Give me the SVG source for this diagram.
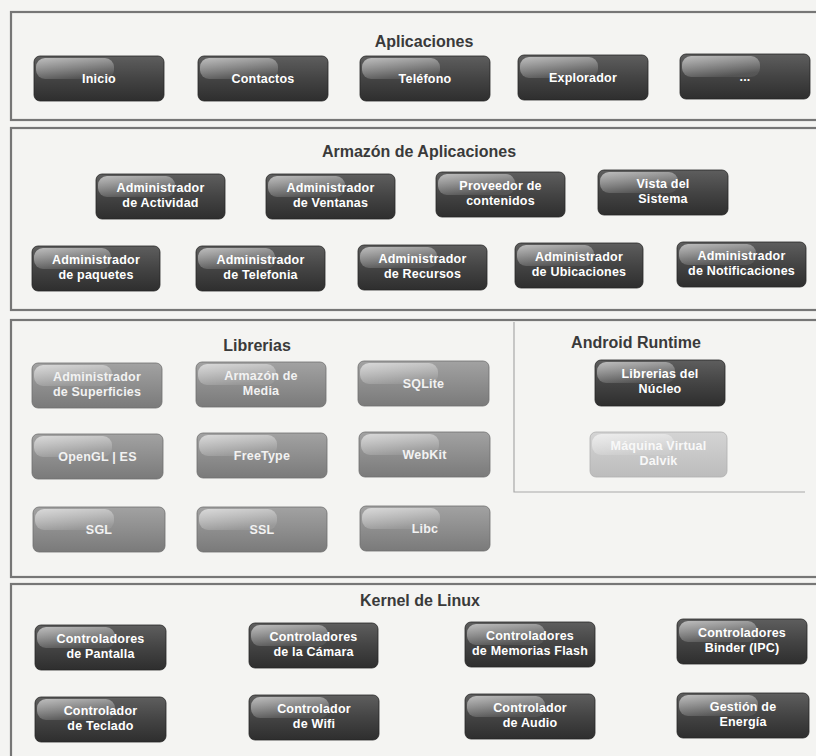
<svg xmlns="http://www.w3.org/2000/svg" width="816" height="756" viewBox="0 0 816 756">
<defs>
<linearGradient id="gDark" x1="0" y1="0" x2="0" y2="1">
<stop offset="0" stop-color="#5e5e5e"/><stop offset="0.5" stop-color="#444"/><stop offset="1" stop-color="#2e2e2e"/>
</linearGradient>
<linearGradient id="gMid" x1="0" y1="0" x2="0" y2="1">
<stop offset="0" stop-color="#a2a2a2"/><stop offset="1" stop-color="#7a7a7a"/>
</linearGradient>
<linearGradient id="gLight" x1="0" y1="0" x2="0" y2="1">
<stop offset="0" stop-color="#d4d4d4"/><stop offset="1" stop-color="#bcbcbc"/>
</linearGradient>
<linearGradient id="gHl" x1="0" y1="0" x2="0.5" y2="1">
<stop offset="0" stop-color="#fff" stop-opacity="0.6"/><stop offset="1" stop-color="#fff" stop-opacity="0.08"/>
</linearGradient>
<style>
.frame{fill:none;stroke:#767676;stroke-width:2.2}
.rt{fill:none;stroke:#a8a8a8;stroke-width:1.2}
.title{font-family:"Liberation Sans",Arial,sans-serif;font-weight:bold;font-size:16px;fill:#3a3a3a;text-anchor:middle}
.t{font-family:"Liberation Sans",Arial,sans-serif;font-weight:bold;font-size:12.5px;fill:#fff;text-anchor:middle;letter-spacing:0.2px}
.dark .base{fill:url(#gDark);stroke:#262626;stroke-width:0.8}
.mid .base{fill:url(#gMid);stroke:#707070;stroke-width:0.8}
.light .base{fill:url(#gLight);stroke:#b0b0b0;stroke-width:0.8}
.hl{fill:url(#gHl)}
.mid .t{fill:#f2f2f2}
.light .t{fill:#f8f8f8}
</style>
</defs>
<rect width="816" height="756" fill="#f4f4f2"/>

<g id="frames">
<rect class="frame" x="11" y="12" width="812" height="108"/>
<rect class="frame" x="11" y="128" width="812" height="182"/>
<rect class="frame" x="11" y="320" width="812" height="257"/>
<rect class="frame" x="11" y="584" width="812" height="180"/>
<path class="rt" d="M514,322 V492 H805"/>
</g>

<g id="titles">
<text class="title" x="424" y="47">Aplicaciones</text>
<text class="title" x="419" y="157">Armazón de Aplicaciones</text>
<text class="title" x="257" y="351">Librerias</text>
<text class="title" x="636" y="348">Android Runtime</text>
<text class="title" x="420" y="606">Kernel de Linux</text>
</g>

<!-- Aplicaciones -->
<g id="n-inicio" class="dark" transform="translate(34,56)"><rect class="base" width="130" height="45" rx="6"/><rect class="hl" x="2" y="2" width="78" height="21" rx="9"/><text class="t" x="65" y="27">Inicio</text></g>
<g id="n-contactos" class="dark" transform="translate(198,56)"><rect class="base" width="130" height="45" rx="6"/><rect class="hl" x="2" y="2" width="78" height="21" rx="9"/><text class="t" x="65" y="27">Contactos</text></g>
<g id="n-telefono" class="dark" transform="translate(360,56)"><rect class="base" width="130" height="45" rx="6"/><rect class="hl" x="2" y="2" width="78" height="21" rx="9"/><text class="t" x="65" y="27">Teléfono</text></g>
<g id="n-explorador" class="dark" transform="translate(518,55)"><rect class="base" width="130" height="45" rx="6"/><rect class="hl" x="2" y="2" width="78" height="21" rx="9"/><text class="t" x="65" y="27">Explorador</text></g>
<g id="n-mas" class="dark" transform="translate(680,54)"><rect class="base" width="130" height="45" rx="6"/><rect class="hl" x="2" y="2" width="78" height="21" rx="9"/><text class="t" x="65" y="27">...</text></g>

<!-- Armazón de Aplicaciones -->
<g id="n-actividad" class="dark" transform="translate(96,174)"><rect class="base" width="129" height="45" rx="6"/><rect class="hl" x="2" y="2" width="77" height="21" rx="9"/><text class="t" x="64.5" y="17.5">Administrador</text><text class="t" x="64.5" y="32.5">de Actividad</text></g>
<g id="n-ventanas" class="dark" transform="translate(266,174)"><rect class="base" width="129" height="45" rx="6"/><rect class="hl" x="2" y="2" width="77" height="21" rx="9"/><text class="t" x="64.5" y="17.5">Administrador</text><text class="t" x="64.5" y="32.5">de Ventanas</text></g>
<g id="n-proveedor" class="dark" transform="translate(436,172)"><rect class="base" width="129" height="45" rx="6"/><rect class="hl" x="2" y="2" width="77" height="21" rx="9"/><text class="t" x="64.5" y="17.5">Proveedor de</text><text class="t" x="64.5" y="32.5">contenidos</text></g>
<g id="n-vista" class="dark" transform="translate(598,170)"><rect class="base" width="130" height="45" rx="6"/><rect class="hl" x="2" y="2" width="78" height="21" rx="9"/><text class="t" x="65" y="17.5">Vista del</text><text class="t" x="65" y="32.5">Sistema</text></g>

<g id="n-paquetes" class="dark" transform="translate(32,246)"><rect class="base" width="128" height="45" rx="6"/><rect class="hl" x="2" y="2" width="77" height="21" rx="9"/><text class="t" x="64" y="17.5">Administrador</text><text class="t" x="64" y="32.5">de paquetes</text></g>
<g id="n-telefonia" class="dark" transform="translate(196,246)"><rect class="base" width="129" height="45" rx="6"/><rect class="hl" x="2" y="2" width="77" height="21" rx="9"/><text class="t" x="64.5" y="17.5">Administrador</text><text class="t" x="64.5" y="32.5">de Telefonia</text></g>
<g id="n-recursos" class="dark" transform="translate(358,245)"><rect class="base" width="129" height="45" rx="6"/><rect class="hl" x="2" y="2" width="77" height="21" rx="9"/><text class="t" x="64.5" y="17.5">Administrador</text><text class="t" x="64.5" y="32.5">de Recursos</text></g>
<g id="n-ubicaciones" class="dark" transform="translate(515,243)"><rect class="base" width="128" height="45" rx="6"/><rect class="hl" x="2" y="2" width="77" height="21" rx="9"/><text class="t" x="64" y="17.5">Administrador</text><text class="t" x="64" y="32.5">de Ubicaciones</text></g>
<g id="n-notificaciones" class="dark" transform="translate(677,242)"><rect class="base" width="129" height="45" rx="6"/><rect class="hl" x="2" y="2" width="77" height="21" rx="9"/><text class="t" x="64.5" y="17.5">Administrador</text><text class="t" x="64.5" y="32.5">de Notificaciones</text></g>

<!-- Librerías -->
<g id="n-superficies" class="mid" transform="translate(32,363)"><rect class="base" width="130" height="45" rx="6"/><rect class="hl" x="2" y="2" width="78" height="21" rx="9"/><text class="t" x="65" y="17.5">Administrador</text><text class="t" x="65" y="32.5">de Superficies</text></g>
<g id="n-media" class="mid" transform="translate(196,362)"><rect class="base" width="130" height="45" rx="6"/><rect class="hl" x="2" y="2" width="78" height="21" rx="9"/><text class="t" x="65" y="17.5">Armazón de</text><text class="t" x="65" y="32.5">Media</text></g>
<g id="n-sqlite" class="mid" transform="translate(358,361)"><rect class="base" width="131" height="45" rx="6"/><rect class="hl" x="2" y="2" width="78" height="21" rx="9"/><text class="t" x="65.5" y="27">SQLite</text></g>
<g id="n-opengl" class="mid" transform="translate(32,434)"><rect class="base" width="131" height="45" rx="6"/><rect class="hl" x="2" y="2" width="78" height="21" rx="9"/><text class="t" x="65.5" y="27">OpenGL | ES</text></g>
<g id="n-freetype" class="mid" transform="translate(197,433)"><rect class="base" width="130" height="45" rx="6"/><rect class="hl" x="2" y="2" width="78" height="21" rx="9"/><text class="t" x="65" y="27">FreeType</text></g>
<g id="n-webkit" class="mid" transform="translate(359,432)"><rect class="base" width="131" height="45" rx="6"/><rect class="hl" x="2" y="2" width="78" height="21" rx="9"/><text class="t" x="65.5" y="27">WebKit</text></g>
<g id="n-sgl" class="mid" transform="translate(33,507)"><rect class="base" width="132" height="45" rx="6"/><rect class="hl" x="2" y="2" width="79" height="21" rx="9"/><text class="t" x="66" y="27">SGL</text></g>
<g id="n-ssl" class="mid" transform="translate(197,507)"><rect class="base" width="130" height="45" rx="6"/><rect class="hl" x="2" y="2" width="78" height="21" rx="9"/><text class="t" x="65" y="27">SSL</text></g>
<g id="n-libc" class="mid" transform="translate(360,506)"><rect class="base" width="130" height="45" rx="6"/><rect class="hl" x="2" y="2" width="78" height="21" rx="9"/><text class="t" x="65" y="27">Libc</text></g>

<!-- Android Runtime -->
<g id="n-nucleo" class="dark" transform="translate(595,360)"><rect class="base" width="130" height="46" rx="6"/><rect class="hl" x="2" y="2" width="78" height="21" rx="9"/><text class="t" x="65" y="18">Librerias del</text><text class="t" x="65" y="33">Núcleo</text></g>
<g id="n-dalvik" class="light" transform="translate(590,432)"><rect class="base" width="137" height="45" rx="6"/><rect class="hl" x="2" y="2" width="82" height="21" rx="9"/><text class="t" x="68.5" y="17.5">Máquina Virtual</text><text class="t" x="68.5" y="32.5">Dalvik</text></g>

<!-- Kernel de Linux -->
<g id="n-pantalla" class="dark" transform="translate(35,625)"><rect class="base" width="131" height="45" rx="6"/><rect class="hl" x="2" y="2" width="78" height="21" rx="9"/><text class="t" x="65.5" y="17.5">Controladores</text><text class="t" x="65.5" y="32.5">de Pantalla</text></g>
<g id="n-camara" class="dark" transform="translate(249,623)"><rect class="base" width="129" height="45" rx="6"/><rect class="hl" x="2" y="2" width="77" height="21" rx="9"/><text class="t" x="64.5" y="17.5">Controladores</text><text class="t" x="64.5" y="32.5">de la Cámara</text></g>
<g id="n-flash" class="dark" transform="translate(465,622)"><rect class="base" width="130" height="45" rx="6"/><rect class="hl" x="2" y="2" width="78" height="21" rx="9"/><text class="t" x="65" y="17.5">Controladores</text><text class="t" x="65" y="32.5">de Memorias Flash</text></g>
<g id="n-binder" class="dark" transform="translate(677,619)"><rect class="base" width="130" height="45" rx="6"/><rect class="hl" x="2" y="2" width="78" height="21" rx="9"/><text class="t" x="65" y="17.5">Controladores</text><text class="t" x="65" y="32.5">Binder (IPC)</text></g>
<g id="n-teclado" class="dark" transform="translate(35,697)"><rect class="base" width="131" height="45" rx="6"/><rect class="hl" x="2" y="2" width="78" height="21" rx="9"/><text class="t" x="65.5" y="17.5">Controlador</text><text class="t" x="65.5" y="32.5">de Teclado</text></g>
<g id="n-wifi" class="dark" transform="translate(249,695)"><rect class="base" width="130" height="45" rx="6"/><rect class="hl" x="2" y="2" width="78" height="21" rx="9"/><text class="t" x="65" y="17.5">Controlador</text><text class="t" x="65" y="32.5">de Wifi</text></g>
<g id="n-audio" class="dark" transform="translate(465,694)"><rect class="base" width="130" height="45" rx="6"/><rect class="hl" x="2" y="2" width="78" height="21" rx="9"/><text class="t" x="65" y="17.5">Controlador</text><text class="t" x="65" y="32.5">de Audio</text></g>
<g id="n-energia" class="dark" transform="translate(677,693)"><rect class="base" width="132" height="45" rx="6"/><rect class="hl" x="2" y="2" width="79" height="21" rx="9"/><text class="t" x="66" y="17.5">Gestión de</text><text class="t" x="66" y="32.5">Energía</text></g>
</svg>
